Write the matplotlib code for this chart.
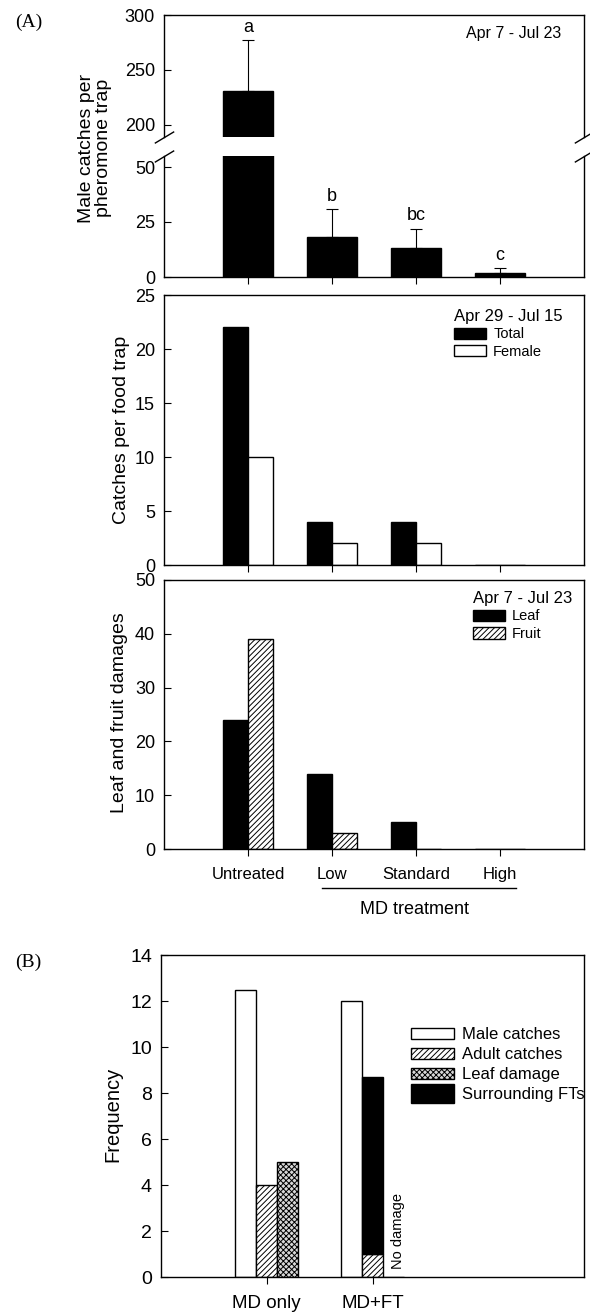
import numpy as np
import matplotlib
matplotlib.use("Agg")
import matplotlib.pyplot as plt
from matplotlib.patches import Patch, Rectangle
from matplotlib.legend_handler import HandlerPatch

plt.rcParams['font.family'] = ['Liberation Sans', 'DejaVu Sans']
plt.rcParams['hatch.linewidth'] = 0.7

W, H = 590, 1314

# ------ data ------------------------------------------------------------------

treatments = ['Untreated', 'Low', 'Standard', 'High']

male_catches = [231, 18, 13, 2]
male_err = [46, 13, 9, 2]
male_letters = ['a', 'b', 'bc', 'c']

food_total = [22, 4, 4, 0]
food_female = [10, 2, 2, 0]

leaf_dmg = [24, 14, 5, 0]
fruit_dmg = [39, 3, 0, 0]

groups_b = ['MD only', 'MD+FT']
b_male = [12.5, 12.0]
b_adult = [4.0, 1.0]
b_leaf = [5.0, 0.0]
b_surround = [0.0, 7.7]   # stacked on top of adult catches

x = np.arange(1, len(treatments) + 1)
xb = np.arange(1, len(groups_b) + 1)


def box(left, top, right, bottom):
    # pixel box -> figure fraction
    return [left / W, 1 - bottom / H, (right - left) / W, (bottom - top) / H]


def style(ax):
    ax.tick_params(axis='y', direction='in', length=5, pad=6.5, labelsize=13)
    ax.tick_params(axis='x', direction='out', length=5, labelsize=12)
    for s in ax.spines.values():
        s.set_linewidth(1.0)


class TallPatch(HandlerPatch):
    # legend key for "Surrounding FTs" is drawn a bit taller
    def create_artists(self, legend, orig_handle, xdescent, ydescent,
                       width, height, fontsize, trans):
        p = Rectangle((-xdescent, -ydescent - 0.3 * height), width, 1.6 * height,
                      facecolor='black', edgecolor='black', transform=trans)
        return [p]


fig = plt.figure(figsize=(W / 100, H / 100), dpi=100)

# ------ (A) male catches, broken axis -----------------------------------------

ax_hi = fig.add_axes(box(164, 15, 584, 137))
ax_lo = fig.add_axes(box(164, 156, 584, 277))

for ax in (ax_hi, ax_lo):
    ax.bar(x, male_catches, 0.6, color='black', edgecolor='black')
    ax.errorbar(x, male_catches, yerr=[np.zeros(len(x)), male_err], fmt='none',
                ecolor='black', elinewidth=0.8, capsize=4, capthick=0.8)
    ax.set_xlim(0, 5)
    style(ax)

ax_hi.set_ylim(189, 300)
ax_hi.set_yticks([200, 250, 300])
ax_lo.set_ylim(0, 55)
ax_lo.set_yticks([0, 25, 50])
ax_hi.spines['bottom'].set_visible(False)
ax_lo.spines['top'].set_visible(False)
ax_hi.set_xticks([])
ax_lo.set_xticks(x)
ax_lo.set_xticklabels([])

for xi, v, e, lab in zip(x, male_catches, male_err, male_letters):
    ax = ax_hi if v + e > 55 else ax_lo
    ax.annotate(lab, (xi, v + e), xytext=(0, 3), textcoords='offset points',
                ha='center', va='bottom', fontsize=13)

# break marks
d = 0.6
kw = dict(marker=[(-1, -d), (1, d)], markersize=14, linestyle='none',
          color='k', mec='k', mew=1, clip_on=False)
ax_hi.plot([0, 1], [0, 0], transform=ax_hi.transAxes, **kw)
ax_lo.plot([0, 1], [1, 1], transform=ax_lo.transAxes, **kw)

ax_hi.text(0.945, 0.85, 'Apr 7 - Jul 23', transform=ax_hi.transAxes,
           ha='right', va='center', fontsize=11.5)

fig.text(95 / W, 1 - 148 / H, 'Male catches per\npheromone trap', rotation=90,
         ha='center', va='center', fontsize=14, multialignment='center',
         linespacing=1.0)

# ------ (A) food trap catches -------------------------------------------------

ax2 = fig.add_axes(box(164, 295, 584, 565))
ax2.bar(x - 0.15, food_total, 0.3, color='black', edgecolor='black', label='Total')
ax2.bar(x + 0.15, food_female, 0.3, color='white', edgecolor='black', label='Female')
ax2.set_xlim(0, 5)
ax2.set_ylim(0, 25)
ax2.set_xticks(x)
ax2.set_xticklabels([])
style(ax2)
ax2.legend(title='Apr 29 - Jul 15', loc='upper left', bbox_to_anchor=(0.69, 0.95),
           frameon=False, fontsize=10.5, title_fontsize=12, alignment='left',
           handlelength=2.2, handleheight=0.8, handletextpad=0.5,
           labelspacing=0.25, borderpad=0, borderaxespad=0)
fig.text(121 / W, 1 - 430 / H, 'Catches per food trap', rotation=90,
         ha='center', va='center', fontsize=14)

# ------ (A) leaf and fruit damages --------------------------------------------

ax3 = fig.add_axes(box(164, 580, 584, 849))
ax3.bar(x - 0.15, leaf_dmg, 0.3, color='black', edgecolor='black', label='Leaf')
ax3.bar(x + 0.15, fruit_dmg, 0.3, color='white', edgecolor='black', hatch='//////',
        label='Fruit')
ax3.set_xlim(0, 5)
ax3.set_ylim(0, 50)
ax3.set_xticks(x)
ax3.set_xticklabels(treatments)
style(ax3)
ax3.tick_params(axis='x', pad=8)
ax3.legend(title='Apr 7 - Jul 23', loc='upper left', bbox_to_anchor=(0.735, 0.96),
           frameon=False, fontsize=10.5, title_fontsize=12, alignment='left',
           handlelength=2.2, handleheight=0.8, handletextpad=0.5,
           labelspacing=0.25, borderpad=0, borderaxespad=0)
ax3.plot([1.88, 4.19], [-0.145, -0.145], color='black', lw=1,
         transform=ax3.get_xaxis_transform(), clip_on=False)
ax3.text(2.98, -0.225, 'MD treatment', transform=ax3.get_xaxis_transform(),
         ha='center', va='center', fontsize=13)
fig.text(120 / W, 1 - 713 / H, 'Leaf and fruit damages', rotation=90,
         ha='center', va='center', fontsize=14)

# ------ (B) frequency ---------------------------------------------------------

axb = fig.add_axes(box(161, 955, 584, 1277))
axb.bar(xb - 0.2, b_male, 0.2, color='white', edgecolor='black')
axb.bar(xb, b_adult, 0.2, color='white', edgecolor='black', hatch='//////')
axb.bar(xb + 0.2, b_leaf, 0.2, color='#d8d8d8', edgecolor='black', hatch='xxxxxx')
sx = [xi for xi, s in zip(xb, b_surround) if s > 0]
sh = [s for s in b_surround if s > 0]
sb = [a for a, s in zip(b_adult, b_surround) if s > 0]
axb.bar(sx, sh, 0.2, bottom=sb, color='black', edgecolor='black')
axb.text(xb[1] + 0.24, 2.0, 'No damage', rotation=90, ha='center', va='center',
         fontsize=10.5)
axb.set_xlim(0, 4)
axb.set_ylim(0, 14)
axb.set_yticks(np.arange(0, 15, 2))
axb.set_xticks(xb)
axb.set_xticklabels(groups_b)
style(axb)
axb.tick_params(axis='y', labelsize=14)
axb.tick_params(axis='x', labelsize=13.5, pad=8)

h_sur = Patch(facecolor='black', edgecolor='black', label='Surrounding FTs')
handles = [Patch(facecolor='white', edgecolor='black', label='Male catches'),
           Patch(facecolor='white', edgecolor='black', hatch='//////', label='Adult catches'),
           Patch(facecolor='#d8d8d8', edgecolor='black', hatch='xxxxxx', label='Leaf damage'),
           h_sur]
axb.legend(handles=handles, loc='upper left', bbox_to_anchor=(0.59, 0.775),
           frameon=False, fontsize=12, handlelength=2.6, handleheight=0.7,
           handletextpad=0.5, labelspacing=0.3, borderpad=0, borderaxespad=0,
           handler_map={h_sur: TallPatch()})
fig.text(113 / W, 1 - 1114 / H, 'Frequency', rotation=90,
         ha='center', va='center', fontsize=14.5)

# ------ panel labels ----------------------------------------------------------

fig.text(15 / W, 1 - 22 / H, '(A)', family='Liberation Serif', fontsize=14,
         ha='left', va='center')
fig.text(15 / W, 1 - 962 / H, '(B)', family='Liberation Serif', fontsize=14,
         ha='left', va='center')

fig.savefig('out.png', dpi=100)
